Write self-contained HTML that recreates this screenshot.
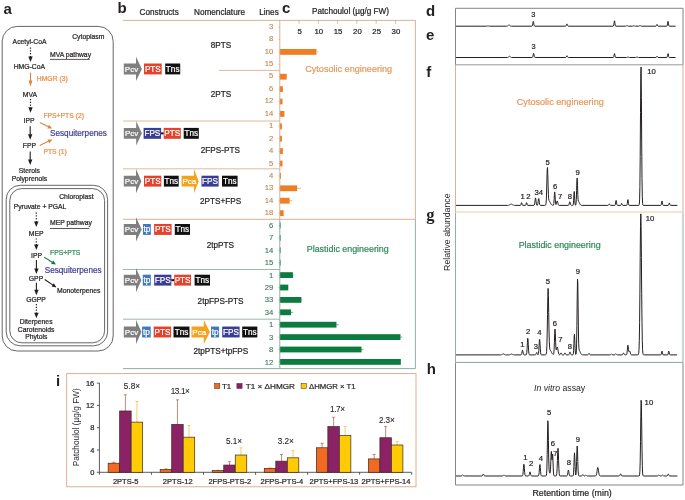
<!DOCTYPE html>
<html><head><meta charset="utf-8"><title>Figure</title>
<style>
html,body{margin:0;padding:0;background:#fff;width:685px;height:500px;overflow:hidden;}
svg{display:block;font-family:"Liberation Sans",sans-serif;will-change:transform;filter:blur(0.3px);}
</style></head>
<body>
<svg width="685" height="500" viewBox="0 0 685 500">
<text x="3.5" y="13.5" font-size="15" fill="#231f20" font-weight="bold">a</text>
<text x="117.5" y="13.4" font-size="15" fill="#231f20" font-weight="bold">b</text>
<text x="282" y="13" font-size="15" fill="#231f20" font-weight="bold">c</text>
<text x="426" y="15.9" font-size="15" fill="#231f20" font-weight="bold">d</text>
<text x="426" y="39.9" font-size="15" fill="#231f20" font-weight="bold">e</text>
<text x="426.3" y="76.5" font-size="15" fill="#231f20" font-weight="bold">f</text>
<text x="426.3" y="219.8" font-size="16.5" fill="#231f20" font-weight="bold" font-family="Liberation Serif">g</text>
<text x="426.8" y="374.2" font-size="15" fill="#231f20" font-weight="bold">h</text>
<text x="56" y="386" font-size="15" fill="#231f20" font-weight="bold">i</text>
<rect x="2.2" y="26.4" width="111.0" height="324.6" rx="15" ry="15" fill="none" stroke="#555" stroke-width="0.9"/>
<rect x="6.2" y="185.3" width="101.39999999999999" height="160.5" rx="14" ry="14" fill="none" stroke="#555" stroke-width="0.9"/>
<rect x="9.8" y="188.6" width="94.8" height="154.20000000000002" rx="12" ry="12" fill="none" stroke="#555" stroke-width="0.9"/>
<text x="12.6" y="44" font-size="6.8" fill="#231f20" stroke="#231f20" stroke-width="0.22">Acetyl-CoA</text>
<text x="72.2" y="38.8" font-size="6.8" fill="#231f20" stroke="#231f20" stroke-width="0.22">Cytoplasm</text>
<text x="50" y="57.2" font-size="6.8" fill="#231f20" stroke="#231f20" stroke-width="0.22">MVA pathway</text>
<line x1="50" y1="59.4" x2="89.6" y2="59.4" stroke="#231f20" stroke-width="0.75"/>
<line x1="30.5" y1="47.5" x2="30.5" y2="57.0" stroke="#231f20" stroke-width="1.2000000000000002" stroke-dasharray="1.2 1.6"/>
<path d="M28.3,56.5 L32.7,56.5 L30.5,62.0 Z" fill="#231f20"/>
<text x="13.7" y="69.4" font-size="6.8" fill="#231f20" stroke="#231f20" stroke-width="0.22">HMG-CoA</text>
<line x1="30.5" y1="72.6" x2="30.5" y2="80.9" stroke="#d9853e" stroke-width="1.1"/>
<path d="M28.6,80.4 L32.4,80.4 L30.5,86.4 Z" fill="#d9853e"/>
<text x="36.8" y="80.8" font-size="6.8" fill="#e8904a" stroke="#e8904a" stroke-width="0.22">HMGR (3)</text>
<text x="22.8" y="96.6" font-size="6.8" fill="#231f20" stroke="#231f20" stroke-width="0.22">MVA</text>
<line x1="30.5" y1="99.0" x2="30.5" y2="107.8" stroke="#231f20" stroke-width="1.2000000000000002" stroke-dasharray="1.2 1.6"/>
<path d="M28.3,107.3 L32.7,107.3 L30.5,112.8 Z" fill="#231f20"/>
<text x="23.6" y="123" font-size="6.8" fill="#231f20" stroke="#231f20" stroke-width="0.22">IPP</text>
<text x="43.4" y="117.8" font-size="6.8" fill="#e8904a" stroke="#e8904a" stroke-width="0.22">FPS+PTS (2)</text>
<line x1="39.8" y1="122.6" x2="48.60" y2="126.86" stroke="#dd8540" stroke-width="1.1"/>
<path d="M47.28,128.44 L49.02,124.84 L52.2,128.6 Z" fill="#dd8540"/>
<text x="50" y="136.4" font-size="8.2" fill="#3f3f94" stroke="#3f3f94" stroke-width="0.22">Sesquiterpenes</text>
<line x1="30.2" y1="126.2" x2="30.2" y2="134.8" stroke="#231f20" stroke-width="1.1"/>
<path d="M28.0,134.3 L32.4,134.3 L30.2,139.8 Z" fill="#231f20"/>
<text x="22.8" y="148.4" font-size="6.8" fill="#231f20" stroke="#231f20" stroke-width="0.22">FPP</text>
<line x1="39.8" y1="145.4" x2="48.79" y2="141.12" stroke="#dd8540" stroke-width="1.1"/>
<path d="M49.20,143.14 L47.48,139.53 L52.4,139.4 Z" fill="#dd8540"/>
<text x="43.4" y="153.7" font-size="6.8" fill="#e8904a" stroke="#e8904a" stroke-width="0.22">PTS (1)</text>
<line x1="30.2" y1="151.4" x2="30.2" y2="160.0" stroke="#231f20" stroke-width="1.1"/>
<path d="M28.0,159.5 L32.4,159.5 L30.2,165.0 Z" fill="#231f20"/>
<text x="29.4" y="172.6" font-size="6.8" fill="#231f20" stroke="#231f20" stroke-width="0.22" text-anchor="middle">Sterols</text>
<text x="29.4" y="180.8" font-size="6.8" fill="#231f20" stroke="#231f20" stroke-width="0.22" text-anchor="middle">Polyprenols</text>
<text x="59.2" y="199.4" font-size="6.8" fill="#231f20" stroke="#231f20" stroke-width="0.22">Chloroplast</text>
<text x="13.7" y="209.2" font-size="6.8" fill="#231f20" stroke="#231f20" stroke-width="0.22">Pyruvate + PGAL</text>
<line x1="36.3" y1="212.5" x2="36.3" y2="222.0" stroke="#231f20" stroke-width="1.2000000000000002" stroke-dasharray="1.2 1.6"/>
<path d="M34.099999999999994,221.5 L38.5,221.5 L36.3,227.0 Z" fill="#231f20"/>
<text x="50" y="225.3" font-size="6.8" fill="#231f20" stroke="#231f20" stroke-width="0.22">MEP pathway</text>
<line x1="50" y1="228.5" x2="89.3" y2="228.5" stroke="#231f20" stroke-width="0.75"/>
<text x="36.1" y="236.2" font-size="6.8" fill="#231f20" stroke="#231f20" stroke-width="0.22" text-anchor="middle">MEP</text>
<line x1="36.3" y1="238.4" x2="36.3" y2="245.0" stroke="#231f20" stroke-width="1.2000000000000002" stroke-dasharray="1.2 1.6"/>
<path d="M34.099999999999994,244.5 L38.5,244.5 L36.3,250.0 Z" fill="#231f20"/>
<text x="36.5" y="258.2" font-size="6.8" fill="#231f20" stroke="#231f20" stroke-width="0.22" text-anchor="middle">IPP</text>
<text x="50" y="255.0" font-size="6.8" fill="#2f8a5a" stroke="#2f8a5a" stroke-width="0.22">FPS+PTS</text>
<line x1="44.1" y1="257.1" x2="52.62" y2="262.47" stroke="#0c7b3f" stroke-width="1.1"/>
<path d="M51.13,263.89 L53.26,260.51 L56.0,264.6 Z" fill="#0c7b3f"/>
<text x="44.7" y="272.6" font-size="8.2" fill="#3f3f94" stroke="#3f3f94" stroke-width="0.22">Sesquiterpenes</text>
<line x1="36.4" y1="259.9" x2="36.4" y2="269.0" stroke="#231f20" stroke-width="1.1"/>
<path d="M34.199999999999996,268.5 L38.6,268.5 L36.4,274.0 Z" fill="#231f20"/>
<text x="36.0" y="280.9" font-size="6.8" fill="#231f20" stroke="#231f20" stroke-width="0.22" text-anchor="middle">GPP</text>
<line x1="44.7" y1="279.5" x2="53.08" y2="285.16" stroke="#231f20" stroke-width="1.1"/>
<path d="M51.55,286.54 L53.79,283.22 L56.4,287.4 Z" fill="#231f20"/>
<text x="57" y="292.7" font-size="6.8" fill="#231f20" stroke="#231f20" stroke-width="0.22">Monoterpenes</text>
<line x1="36.4" y1="282.7" x2="36.4" y2="290.2" stroke="#231f20" stroke-width="1.1"/>
<path d="M34.199999999999996,289.7 L38.6,289.7 L36.4,295.2 Z" fill="#231f20"/>
<text x="36.1" y="302" font-size="6.8" fill="#231f20" stroke="#231f20" stroke-width="0.22" text-anchor="middle">GGPP</text>
<line x1="36.4" y1="304.0" x2="36.4" y2="313.2" stroke="#231f20" stroke-width="1.2000000000000002" stroke-dasharray="1.2 1.6"/>
<path d="M34.199999999999996,312.7 L38.6,312.7 L36.4,318.2 Z" fill="#231f20"/>
<text x="36.1" y="323.7" font-size="6.8" fill="#231f20" stroke="#231f20" stroke-width="0.22" text-anchor="middle">Diterpenes</text>
<text x="36.1" y="331.7" font-size="6.8" fill="#231f20" stroke="#231f20" stroke-width="0.22" text-anchor="middle">Carotenoids</text>
<text x="36.3" y="338.9" font-size="6.8" fill="#231f20" stroke="#231f20" stroke-width="0.22" text-anchor="middle">Phytols</text>
<text x="139.6" y="14.6" font-size="8.2" fill="#231f20" stroke="#231f20" stroke-width="0.22">Constructs</text>
<text x="194" y="14.6" font-size="8.2" fill="#231f20" stroke="#231f20" stroke-width="0.22">Nomenclature</text>
<text x="259.2" y="14.6" font-size="8.2" fill="#231f20" stroke="#231f20" stroke-width="0.22">Lines</text>
<text x="221" y="47.8" font-size="8.2" fill="#231f20" stroke="#231f20" stroke-width="0.22" text-anchor="middle">8PTS</text>
<text x="221" y="97.2" font-size="8.2" fill="#231f20" stroke="#231f20" stroke-width="0.22" text-anchor="middle">2PTS</text>
<text x="220.3" y="153.1" font-size="8.2" fill="#231f20" stroke="#231f20" stroke-width="0.22" text-anchor="middle">2FPS-PTS</text>
<text x="220.6" y="203.9" font-size="8.2" fill="#231f20" stroke="#231f20" stroke-width="0.22" text-anchor="middle">2PTS+FPS</text>
<text x="220.4" y="247.6" font-size="8.2" fill="#231f20" stroke="#231f20" stroke-width="0.22" text-anchor="middle">2tpPTS</text>
<text x="220.6" y="304.2" font-size="8.2" fill="#231f20" stroke="#231f20" stroke-width="0.22" text-anchor="middle">2tpFPS-PTS</text>
<text x="220.8" y="354.2" font-size="8.2" fill="#231f20" stroke="#231f20" stroke-width="0.22" text-anchor="middle">2tpPTS+tpFPS</text>
<text x="273.2" y="28.70" font-size="7.7" fill="#c4844c" stroke="#c4844c" stroke-width="0.12" text-anchor="end">3</text>
<line x1="278.3" y1="27.1" x2="279.8" y2="27.1" stroke="#d8a886" stroke-width="0.6"/>
<text x="273.2" y="41.14" font-size="7.7" fill="#c4844c" stroke="#c4844c" stroke-width="0.12" text-anchor="end">8</text>
<line x1="278.3" y1="39.5" x2="279.8" y2="39.5" stroke="#d8a886" stroke-width="0.6"/>
<text x="273.2" y="53.59" font-size="7.7" fill="#c4844c" stroke="#c4844c" stroke-width="0.12" text-anchor="end">10</text>
<rect x="279.8" y="49.0" width="36.62" height="5.8" fill="#ef7d22"/>
<line x1="316.42" y1="51.9" x2="318.35" y2="51.9" stroke="#ef7d22" stroke-width="0.6"/>
<line x1="278.3" y1="51.9" x2="279.8" y2="51.9" stroke="#d8a886" stroke-width="0.6"/>
<text x="273.2" y="66.03" font-size="7.7" fill="#c4844c" stroke="#c4844c" stroke-width="0.12" text-anchor="end">15</text>
<line x1="278.3" y1="64.3" x2="279.8" y2="64.3" stroke="#d8a886" stroke-width="0.6"/>
<text x="273.2" y="78.47" font-size="7.7" fill="#c4844c" stroke="#c4844c" stroke-width="0.12" text-anchor="end">5</text>
<rect x="279.8" y="73.8" width="6.94" height="5.8" fill="#ef7d22"/>
<line x1="278.3" y1="76.7" x2="279.8" y2="76.7" stroke="#d8a886" stroke-width="0.6"/>
<text x="273.2" y="90.91" font-size="7.7" fill="#c4844c" stroke="#c4844c" stroke-width="0.12" text-anchor="end">6</text>
<rect x="279.8" y="86.2" width="3.08" height="5.8" fill="#ef7d22"/>
<line x1="278.3" y1="89.1" x2="279.8" y2="89.1" stroke="#d8a886" stroke-width="0.6"/>
<text x="273.2" y="103.36" font-size="7.7" fill="#c4844c" stroke="#c4844c" stroke-width="0.12" text-anchor="end">12</text>
<rect x="279.8" y="98.6" width="2.7" height="5.8" fill="#ef7d22"/>
<line x1="278.3" y1="101.5" x2="279.8" y2="101.5" stroke="#d8a886" stroke-width="0.6"/>
<text x="273.2" y="115.80" font-size="7.7" fill="#c4844c" stroke="#c4844c" stroke-width="0.12" text-anchor="end">14</text>
<rect x="279.8" y="111.0" width="4.63" height="5.8" fill="#ef7d22"/>
<line x1="278.3" y1="113.9" x2="279.8" y2="113.9" stroke="#d8a886" stroke-width="0.6"/>
<text x="273.2" y="128.24" font-size="7.7" fill="#c4844c" stroke="#c4844c" stroke-width="0.12" text-anchor="end">1</text>
<rect x="279.8" y="123.4" width="2.12" height="5.8" fill="#ef7d22"/>
<line x1="278.3" y1="126.3" x2="279.8" y2="126.3" stroke="#d8a886" stroke-width="0.6"/>
<text x="273.2" y="140.69" font-size="7.7" fill="#c4844c" stroke="#c4844c" stroke-width="0.12" text-anchor="end">2</text>
<rect x="279.8" y="135.8" width="2.12" height="5.8" fill="#ef7d22"/>
<line x1="278.3" y1="138.7" x2="279.8" y2="138.7" stroke="#d8a886" stroke-width="0.6"/>
<text x="273.2" y="153.13" font-size="7.7" fill="#c4844c" stroke="#c4844c" stroke-width="0.12" text-anchor="end">4</text>
<rect x="279.8" y="148.2" width="3.08" height="5.8" fill="#ef7d22"/>
<line x1="278.3" y1="151.1" x2="279.8" y2="151.1" stroke="#d8a886" stroke-width="0.6"/>
<text x="273.2" y="165.57" font-size="7.7" fill="#c4844c" stroke="#c4844c" stroke-width="0.12" text-anchor="end">5</text>
<rect x="279.8" y="160.6" width="2.7" height="5.8" fill="#ef7d22"/>
<line x1="278.3" y1="163.5" x2="279.8" y2="163.5" stroke="#d8a886" stroke-width="0.6"/>
<text x="273.2" y="178.02" font-size="7.7" fill="#c4844c" stroke="#c4844c" stroke-width="0.12" text-anchor="end">4</text>
<rect x="279.8" y="173.0" width="1.16" height="5.8" fill="#ef7d22"/>
<line x1="278.3" y1="175.9" x2="279.8" y2="175.9" stroke="#d8a886" stroke-width="0.6"/>
<text x="273.2" y="190.46" font-size="7.7" fill="#c4844c" stroke="#c4844c" stroke-width="0.12" text-anchor="end">13</text>
<rect x="279.8" y="185.4" width="17.35" height="5.8" fill="#ef7d22"/>
<line x1="297.15" y1="188.3" x2="301.0" y2="188.3" stroke="#ef7d22" stroke-width="0.6"/>
<line x1="278.3" y1="188.3" x2="279.8" y2="188.3" stroke="#d8a886" stroke-width="0.6"/>
<text x="273.2" y="202.90" font-size="7.7" fill="#c4844c" stroke="#c4844c" stroke-width="0.12" text-anchor="end">14</text>
<rect x="279.8" y="197.8" width="9.83" height="5.8" fill="#ef7d22"/>
<line x1="289.63" y1="200.7" x2="292.33" y2="200.7" stroke="#ef7d22" stroke-width="0.6"/>
<line x1="278.3" y1="200.7" x2="279.8" y2="200.7" stroke="#d8a886" stroke-width="0.6"/>
<text x="273.2" y="215.34" font-size="7.7" fill="#c4844c" stroke="#c4844c" stroke-width="0.12" text-anchor="end">18</text>
<rect x="279.8" y="210.2" width="3.85" height="5.8" fill="#ef7d22"/>
<line x1="278.3" y1="213.1" x2="279.8" y2="213.1" stroke="#d8a886" stroke-width="0.6"/>
<text x="273.2" y="227.79" font-size="7.7" fill="#357a5a" stroke="#357a5a" stroke-width="0.12" text-anchor="end">6</text>
<rect x="279.8" y="222.6" width="0.77" height="5.8" fill="#0c7b3f"/>
<line x1="278.3" y1="225.5" x2="279.8" y2="225.5" stroke="#80a898" stroke-width="0.6"/>
<text x="273.2" y="240.23" font-size="7.7" fill="#357a5a" stroke="#357a5a" stroke-width="0.12" text-anchor="end">7</text>
<rect x="279.8" y="235.0" width="0.77" height="5.8" fill="#0c7b3f"/>
<line x1="278.3" y1="237.9" x2="279.8" y2="237.9" stroke="#80a898" stroke-width="0.6"/>
<text x="273.2" y="252.67" font-size="7.7" fill="#357a5a" stroke="#357a5a" stroke-width="0.12" text-anchor="end">14</text>
<rect x="279.8" y="247.4" width="0.77" height="5.8" fill="#0c7b3f"/>
<line x1="278.3" y1="250.3" x2="279.8" y2="250.3" stroke="#80a898" stroke-width="0.6"/>
<text x="273.2" y="265.12" font-size="7.7" fill="#357a5a" stroke="#357a5a" stroke-width="0.12" text-anchor="end">15</text>
<rect x="279.8" y="259.8" width="0.77" height="5.8" fill="#0c7b3f"/>
<line x1="278.3" y1="262.7" x2="279.8" y2="262.7" stroke="#80a898" stroke-width="0.6"/>
<text x="273.2" y="277.56" font-size="7.7" fill="#357a5a" stroke="#357a5a" stroke-width="0.12" text-anchor="end">1</text>
<rect x="279.8" y="272.2" width="13.11" height="5.8" fill="#0c7b3f"/>
<line x1="292.91" y1="275.1" x2="293.68" y2="275.1" stroke="#0c7b3f" stroke-width="0.6"/>
<line x1="278.3" y1="275.1" x2="279.8" y2="275.1" stroke="#80a898" stroke-width="0.6"/>
<text x="273.2" y="290.00" font-size="7.7" fill="#357a5a" stroke="#357a5a" stroke-width="0.12" text-anchor="end">29</text>
<rect x="279.8" y="284.6" width="8.48" height="5.8" fill="#0c7b3f"/>
<line x1="278.3" y1="287.5" x2="279.8" y2="287.5" stroke="#80a898" stroke-width="0.6"/>
<text x="273.2" y="302.45" font-size="7.7" fill="#357a5a" stroke="#357a5a" stroke-width="0.12" text-anchor="end">33</text>
<rect x="279.8" y="297.0" width="21.59" height="5.8" fill="#0c7b3f"/>
<line x1="301.39" y1="299.9" x2="302.16" y2="299.9" stroke="#0c7b3f" stroke-width="0.6"/>
<line x1="278.3" y1="299.9" x2="279.8" y2="299.9" stroke="#80a898" stroke-width="0.6"/>
<text x="273.2" y="314.89" font-size="7.7" fill="#357a5a" stroke="#357a5a" stroke-width="0.12" text-anchor="end">34</text>
<rect x="279.8" y="309.4" width="11.18" height="5.8" fill="#0c7b3f"/>
<line x1="290.98" y1="312.3" x2="293.29" y2="312.3" stroke="#0c7b3f" stroke-width="0.6"/>
<line x1="278.3" y1="312.3" x2="279.8" y2="312.3" stroke="#80a898" stroke-width="0.6"/>
<text x="273.2" y="327.33" font-size="7.7" fill="#357a5a" stroke="#357a5a" stroke-width="0.12" text-anchor="end">1</text>
<rect x="279.8" y="321.8" width="56.67" height="5.8" fill="#0c7b3f"/>
<line x1="336.47" y1="324.7" x2="338.78" y2="324.7" stroke="#0c7b3f" stroke-width="0.6"/>
<line x1="278.3" y1="324.7" x2="279.8" y2="324.7" stroke="#80a898" stroke-width="0.6"/>
<text x="273.2" y="339.77" font-size="7.7" fill="#357a5a" stroke="#357a5a" stroke-width="0.12" text-anchor="end">3</text>
<rect x="279.8" y="334.2" width="120.66" height="5.8" fill="#0c7b3f"/>
<line x1="400.46" y1="337.1" x2="402.0" y2="337.1" stroke="#0c7b3f" stroke-width="0.6"/>
<line x1="278.3" y1="337.1" x2="279.8" y2="337.1" stroke="#80a898" stroke-width="0.6"/>
<text x="273.2" y="352.22" font-size="7.7" fill="#357a5a" stroke="#357a5a" stroke-width="0.12" text-anchor="end">8</text>
<rect x="279.8" y="346.6" width="81.73" height="5.8" fill="#0c7b3f"/>
<line x1="361.53" y1="349.5" x2="363.45" y2="349.5" stroke="#0c7b3f" stroke-width="0.6"/>
<line x1="278.3" y1="349.5" x2="279.8" y2="349.5" stroke="#80a898" stroke-width="0.6"/>
<text x="273.2" y="364.66" font-size="7.7" fill="#357a5a" stroke="#357a5a" stroke-width="0.12" text-anchor="end">12</text>
<rect x="279.8" y="359.0" width="121.05" height="5.8" fill="#0c7b3f"/>
<line x1="278.3" y1="361.9" x2="279.8" y2="361.9" stroke="#80a898" stroke-width="0.6"/>
<line x1="123" y1="20.4" x2="415.4" y2="20.4" stroke="#d8a886" stroke-width="0.9"/>
<line x1="279.8" y1="20.4" x2="279.8" y2="219.3" stroke="#d8a886" stroke-width="0.9"/>
<line x1="415.4" y1="20.4" x2="415.4" y2="219.3" stroke="#d8a886" stroke-width="0.9"/>
<line x1="279.8" y1="219.3" x2="279.8" y2="368.6" stroke="#80a898" stroke-width="0.9"/>
<line x1="415.4" y1="219.3" x2="415.4" y2="368.6" stroke="#80a898" stroke-width="0.9"/>
<line x1="219" y1="70.4" x2="279.8" y2="70.4" stroke="#d8a886" stroke-width="0.8"/>
<line x1="123" y1="121.0" x2="279.8" y2="121.0" stroke="#d8a886" stroke-width="0.8"/>
<line x1="123" y1="168.8" x2="279.8" y2="168.8" stroke="#d8a886" stroke-width="0.8"/>
<line x1="123" y1="219.3" x2="415.4" y2="219.3" stroke="#d8a886" stroke-width="0.9"/>
<line x1="123" y1="269.5" x2="279.8" y2="269.5" stroke="#80a898" stroke-width="0.8"/>
<line x1="123" y1="319.2" x2="279.8" y2="319.2" stroke="#80a898" stroke-width="0.8"/>
<line x1="123" y1="368.6" x2="415.4" y2="368.6" stroke="#80a898" stroke-width="0.9"/>
<line x1="299.07" y1="20.4" x2="299.07" y2="23.799999999999997" stroke="#999" stroke-width="0.6"/>
<text x="299.57" y="33.9" font-size="7.8" fill="#231f20" stroke="#231f20" stroke-width="0.22" text-anchor="middle">5</text>
<line x1="318.35" y1="20.4" x2="318.35" y2="23.799999999999997" stroke="#999" stroke-width="0.6"/>
<text x="318.85" y="33.9" font-size="7.8" fill="#231f20" stroke="#231f20" stroke-width="0.22" text-anchor="middle">10</text>
<line x1="337.62" y1="20.4" x2="337.62" y2="23.799999999999997" stroke="#999" stroke-width="0.6"/>
<text x="338.12" y="33.9" font-size="7.8" fill="#231f20" stroke="#231f20" stroke-width="0.22" text-anchor="middle">15</text>
<line x1="356.9" y1="20.4" x2="356.9" y2="23.799999999999997" stroke="#999" stroke-width="0.6"/>
<text x="357.4" y="33.9" font-size="7.8" fill="#231f20" stroke="#231f20" stroke-width="0.22" text-anchor="middle">20</text>
<line x1="376.18" y1="20.4" x2="376.18" y2="23.799999999999997" stroke="#999" stroke-width="0.6"/>
<text x="376.68" y="33.9" font-size="7.8" fill="#231f20" stroke="#231f20" stroke-width="0.22" text-anchor="middle">25</text>
<line x1="395.45" y1="20.4" x2="395.45" y2="23.799999999999997" stroke="#999" stroke-width="0.6"/>
<text x="395.95" y="33.9" font-size="7.8" fill="#231f20" stroke="#231f20" stroke-width="0.22" text-anchor="middle">30</text>
<text x="312" y="14.4" font-size="8.2" fill="#231f20" stroke="#231f20" stroke-width="0.22">Patchoulol (µg/g FW)</text>
<text x="305.2" y="71.7" font-size="9.1" fill="#e59a5e" stroke="#e59a5e" stroke-width="0.22">Cytosolic engineering</text>
<text x="306.8" y="252.0" font-size="8.9" fill="#2f8a5a" stroke="#2f8a5a" stroke-width="0.22">Plastidic engineering</text>
<path d="M123.8,63.50 L136.0,63.50 L136.0,56.85 L141.9,68.95 L136.0,81.05 L136.0,74.40 L123.8,74.40 Z" fill="#7f7f7f"/>
<text x="131.5" y="71.85" font-size="8.0" fill="#fff" stroke="#fff" stroke-width="0.22" text-anchor="middle">Pcv</text>
<rect x="144.0" y="63.5" width="17.7" height="10.9" fill="#e5412b"/>
<text x="152.85" y="71.9" font-size="8.2" fill="#fff" stroke="#fff" stroke-width="0.22" text-anchor="middle">PTS</text>
<rect x="165.2" y="63.5" width="15.0" height="10.9" fill="#111"/>
<text x="172.7" y="71.9" font-size="8.2" fill="#fff" stroke="#fff" stroke-width="0.22" text-anchor="middle">Tns</text>
<path d="M123.8,127.90 L136.2,127.90 L136.2,121.25 L141.9,133.35 L136.2,145.45 L136.2,138.80 L123.8,138.80 Z" fill="#7f7f7f"/>
<text x="131.6" y="136.25" font-size="8.0" fill="#fff" stroke="#fff" stroke-width="0.22" text-anchor="middle">Pcv</text>
<rect x="143.6" y="127.9" width="17.5" height="10.9" fill="#3a3d96"/>
<text x="152.35" y="136.3" font-size="8.2" fill="#fff" stroke="#fff" stroke-width="0.22" text-anchor="middle">FPS</text>
<rect x="161.1" y="132.35" width="2.6" height="2.0" fill="#111"/>
<rect x="163.7" y="127.9" width="17.1" height="10.9" fill="#e5412b"/>
<text x="172.25" y="136.3" font-size="8.2" fill="#fff" stroke="#fff" stroke-width="0.22" text-anchor="middle">PTS</text>
<rect x="183.7" y="127.9" width="15.1" height="10.9" fill="#111"/>
<text x="191.25" y="136.3" font-size="8.2" fill="#fff" stroke="#fff" stroke-width="0.22" text-anchor="middle">Tns</text>
<path d="M123.8,175.70 L136.0,175.70 L136.0,169.05 L141.4,181.15 L136.0,193.25 L136.0,186.60 L123.8,186.60 Z" fill="#7f7f7f"/>
<text x="131.5" y="184.05" font-size="8.0" fill="#fff" stroke="#fff" stroke-width="0.22" text-anchor="middle">Pcv</text>
<rect x="144.0" y="175.7" width="17.3" height="10.9" fill="#e5412b"/>
<text x="152.65" y="184.1" font-size="8.2" fill="#fff" stroke="#fff" stroke-width="0.22" text-anchor="middle">PTS</text>
<rect x="163.9" y="175.7" width="14.8" height="10.9" fill="#111"/>
<text x="171.3" y="184.1" font-size="8.2" fill="#fff" stroke="#fff" stroke-width="0.22" text-anchor="middle">Tns</text>
<path d="M181.6,175.70 L194.0,175.70 L194.0,169.05 L198.7,181.15 L194.0,193.25 L194.0,186.60 L181.6,186.60 Z" fill="#f5a21d"/>
<text x="189.4" y="184.05" font-size="8.0" fill="#fff" stroke="#fff" stroke-width="0.22" text-anchor="middle">Pca</text>
<rect x="201.5" y="175.7" width="17.1" height="10.9" fill="#3a3d96"/>
<text x="210.05" y="184.1" font-size="8.2" fill="#fff" stroke="#fff" stroke-width="0.22" text-anchor="middle">FPS</text>
<rect x="222.0" y="175.7" width="15.6" height="10.9" fill="#111"/>
<text x="229.8" y="184.1" font-size="8.2" fill="#fff" stroke="#fff" stroke-width="0.22" text-anchor="middle">Tns</text>
<path d="M123.8,224.00 L136.0,224.00 L136.0,217.35 L141.7,229.45 L136.0,241.55 L136.0,234.90 L123.8,234.90 Z" fill="#7f7f7f"/>
<text x="131.5" y="232.35" font-size="8.0" fill="#fff" stroke="#fff" stroke-width="0.22" text-anchor="middle">Pcv</text>
<rect x="143.0" y="224.0" width="7.8" height="10.9" fill="#3f79c0"/>
<text x="146.9" y="232.4" font-size="8.2" fill="#fff" stroke="#fff" stroke-width="0.22" text-anchor="middle">tp</text>
<rect x="154.1" y="224.0" width="17.5" height="10.9" fill="#e5412b"/>
<text x="162.85" y="232.4" font-size="8.2" fill="#fff" stroke="#fff" stroke-width="0.22" text-anchor="middle">PTS</text>
<rect x="174.8" y="224.0" width="15.2" height="10.9" fill="#111"/>
<text x="182.4" y="232.4" font-size="8.2" fill="#fff" stroke="#fff" stroke-width="0.22" text-anchor="middle">Tns</text>
<path d="M123.8,274.70 L136.0,274.70 L136.0,268.05 L141.4,280.15 L136.0,292.25 L136.0,285.60 L123.8,285.60 Z" fill="#7f7f7f"/>
<text x="131.5" y="283.05" font-size="8.0" fill="#fff" stroke="#fff" stroke-width="0.22" text-anchor="middle">Pcv</text>
<rect x="142.8" y="274.7" width="8.0" height="10.9" fill="#3f79c0"/>
<text x="146.8" y="283.1" font-size="8.2" fill="#fff" stroke="#fff" stroke-width="0.22" text-anchor="middle">tp</text>
<rect x="154.2" y="274.7" width="17.1" height="10.9" fill="#3a3d96"/>
<text x="162.75" y="283.1" font-size="8.2" fill="#fff" stroke="#fff" stroke-width="0.22" text-anchor="middle">FPS</text>
<rect x="171.3" y="279.15" width="2.9" height="2.0" fill="#111"/>
<rect x="174.2" y="274.7" width="16.8" height="10.9" fill="#e5412b"/>
<text x="182.6" y="283.1" font-size="8.2" fill="#fff" stroke="#fff" stroke-width="0.22" text-anchor="middle">PTS</text>
<rect x="194.6" y="274.7" width="15.4" height="10.9" fill="#111"/>
<text x="202.3" y="283.1" font-size="8.2" fill="#fff" stroke="#fff" stroke-width="0.22" text-anchor="middle">Tns</text>
<path d="M123.8,326.55 L136.0,326.55 L136.0,319.90 L141.5,332.00 L136.0,344.10 L136.0,337.45 L123.8,337.45 Z" fill="#7f7f7f"/>
<text x="131.5" y="334.9" font-size="8.0" fill="#fff" stroke="#fff" stroke-width="0.22" text-anchor="middle">Pcv</text>
<rect x="142.1" y="326.55" width="8.6" height="10.9" fill="#3f79c0"/>
<text x="146.4" y="334.95" font-size="8.2" fill="#fff" stroke="#fff" stroke-width="0.22" text-anchor="middle">tp</text>
<rect x="153.7" y="326.55" width="17.4" height="10.9" fill="#e5412b"/>
<text x="162.4" y="334.95" font-size="8.2" fill="#fff" stroke="#fff" stroke-width="0.22" text-anchor="middle">PTS</text>
<rect x="173.5" y="326.55" width="16.0" height="10.9" fill="#111"/>
<text x="181.5" y="334.95" font-size="8.2" fill="#fff" stroke="#fff" stroke-width="0.22" text-anchor="middle">Tns</text>
<path d="M191.5,326.55 L203.8,326.55 L203.8,319.90 L209.9,332.00 L203.8,344.10 L203.8,337.45 L191.5,337.45 Z" fill="#f5a21d"/>
<text x="199.25" y="334.9" font-size="8.0" fill="#fff" stroke="#fff" stroke-width="0.22" text-anchor="middle">Pca</text>
<rect x="211.0" y="326.55" width="8.1" height="10.9" fill="#3f79c0"/>
<text x="215.05" y="334.95" font-size="8.2" fill="#fff" stroke="#fff" stroke-width="0.22" text-anchor="middle">tp</text>
<rect x="222.2" y="326.55" width="17.4" height="10.9" fill="#3a3d96"/>
<text x="230.9" y="334.95" font-size="8.2" fill="#fff" stroke="#fff" stroke-width="0.22" text-anchor="middle">FPS</text>
<rect x="242.2" y="326.55" width="15.1" height="10.9" fill="#111"/>
<text x="249.75" y="334.95" font-size="8.2" fill="#fff" stroke="#fff" stroke-width="0.22" text-anchor="middle">Tns</text>
<path d="M455.5,64.8 L455.5,8.3 L683.0,8.3 L683.0,64.8" fill="none" stroke="#777" stroke-width="0.9"/>
<line x1="455.5" y1="64.8" x2="683.0" y2="64.8" stroke="#999" stroke-width="1.0"/>
<path d="M455.5,64.9 L455.5,212 M683.0,64.9 L683.0,212" fill="none" stroke="#d8a886" stroke-width="0.9"/>
<line x1="455.5" y1="212.0" x2="683.0" y2="212.0" stroke="#f0c8a0" stroke-width="1.0"/>
<path d="M455.5,212.5 L455.5,362.4 M683.0,212.5 L683.0,362.4" fill="none" stroke="#80a898" stroke-width="0.9"/>
<line x1="455.5" y1="362.4" x2="683.0" y2="362.4" stroke="#80a898" stroke-width="1.0"/>
<path d="M455.5,362.9 L455.5,485 L683.0,485 L683.0,362.9" fill="none" stroke="#777" stroke-width="0.9"/>
<path d="M456.00,26.20 L486.60,26.18 L486.90,26.14 L487.20,26.08 L487.50,25.99 L487.80,25.92 L488.10,25.90 L488.40,25.96 L488.70,26.05 L489.00,26.13 L489.30,26.17 L489.60,26.19 L506.70,26.18 L507.00,26.15 L507.30,26.07 L507.60,25.94 L507.90,25.73 L508.20,25.47 L508.50,25.21 L508.80,25.04 L509.10,25.01 L509.40,25.14 L509.70,25.38 L510.00,25.65 L510.30,25.88 L510.60,26.04 L510.90,26.13 L511.20,26.17 L511.50,26.19 L531.60,26.20 L531.90,26.16 L532.20,25.95 L532.50,25.19 L532.80,23.56 L533.10,21.76 L533.40,21.42 L533.70,22.90 L534.00,24.74 L534.30,25.79 L534.60,26.12 L534.90,26.19 L565.50,26.19 L565.80,26.13 L566.10,25.89 L566.40,25.25 L566.70,24.36 L567.00,23.90 L567.30,24.36 L567.60,25.25 L567.90,25.89 L568.20,26.13 L568.50,26.19 L612.90,26.20 L613.20,26.17 L613.50,25.95 L613.80,24.99 L614.10,22.80 L614.40,20.77 L614.70,21.26 L615.00,23.64 L615.30,25.44 L615.60,26.07 L615.90,26.19 L625.20,26.19 L625.50,26.17 L625.80,26.12 L626.10,26.01 L626.40,25.84 L626.70,25.67 L627.00,25.60 L627.30,25.67 L627.60,25.84 L627.90,26.01 L628.20,26.12 L628.50,26.17 L628.80,26.19 L632.40,26.19 L632.70,26.15 L633.00,26.08 L633.30,25.95 L633.60,25.80 L633.90,25.71 L634.20,25.73 L634.50,25.85 L634.80,25.99 L635.10,26.11 L635.40,26.17 L635.70,26.19 L638.40,26.18 L638.70,26.14 L639.00,26.05 L639.30,25.90 L639.60,25.72 L639.90,25.61 L640.20,25.63 L640.50,25.78 L640.80,25.95 L641.10,26.09 L641.40,26.16 L641.70,26.19 L655.80,26.18 L656.10,26.06 L656.40,25.62 L656.70,24.84 L657.00,24.40 L657.30,24.84 L657.60,25.62 L657.90,26.06 L658.20,26.18 L666.60,26.19 L666.90,26.09 L667.20,25.52 L667.50,23.91 L667.80,21.79 L668.10,21.35 L668.40,23.17 L668.70,25.12 L669.00,25.98 L669.30,26.17 L669.60,26.20 L675.60,26.20" fill="none" stroke="#231f20" stroke-width="1.0" stroke-linejoin="round"/>
<text x="533.4" y="17.4" font-size="7.4" fill="#231f20" stroke="#231f20" stroke-width="0.22" text-anchor="middle">3</text>
<path d="M456.00,57.50 L507.00,57.49 L507.30,57.47 L507.60,57.43 L507.90,57.34 L508.20,57.18 L508.50,56.95 L508.80,56.68 L509.10,56.44 L509.40,56.31 L509.70,56.34 L510.00,56.51 L510.30,56.77 L510.60,57.03 L510.90,57.24 L511.20,57.37 L511.50,57.45 L511.80,57.48 L531.90,57.50 L532.20,57.47 L532.50,57.28 L532.80,56.61 L533.10,55.18 L533.40,53.60 L533.70,53.30 L534.00,54.60 L534.30,56.22 L534.60,57.14 L534.90,57.43 L535.20,57.49 L565.50,57.49 L565.80,57.45 L566.10,57.26 L566.40,56.76 L566.70,56.06 L567.00,55.70 L567.30,56.06 L567.60,56.76 L567.90,57.26 L568.20,57.45 L568.50,57.49 L612.90,57.50 L613.20,57.48 L613.50,57.32 L613.80,56.63 L614.10,55.07 L614.40,53.62 L614.70,53.97 L615.00,55.67 L615.30,56.96 L615.60,57.41 L615.90,57.49 L626.40,57.49 L626.70,57.45 L627.00,57.38 L627.30,57.25 L627.60,57.10 L627.90,57.01 L628.20,57.03 L628.50,57.15 L628.80,57.29 L629.10,57.41 L629.40,57.47 L629.70,57.49 L635.40,57.49 L635.70,57.45 L636.00,57.38 L636.30,57.25 L636.60,57.10 L636.90,57.01 L637.20,57.03 L637.50,57.15 L637.80,57.29 L638.10,57.41 L638.40,57.47 L638.70,57.49 L655.80,57.49 L656.10,57.40 L656.40,57.08 L656.70,56.52 L657.00,56.20 L657.30,56.52 L657.60,57.08 L657.90,57.40 L658.20,57.49 L666.60,57.49 L666.90,57.41 L667.20,56.96 L667.50,55.67 L667.80,53.97 L668.10,53.62 L668.40,55.07 L668.70,56.63 L669.00,57.32 L669.30,57.48 L669.60,57.50 L675.60,57.50" fill="none" stroke="#231f20" stroke-width="1.0" stroke-linejoin="round"/>
<text x="533.6" y="49.0" font-size="7.4" fill="#231f20" stroke="#231f20" stroke-width="0.22" text-anchor="middle">3</text>
<path d="M456.00,205.40 L507.60,205.39 L507.90,205.37 L508.20,205.34 L508.50,205.30 L508.80,205.22 L509.10,205.12 L509.40,204.98 L509.70,204.80 L510.00,204.61 L510.30,204.42 L510.60,204.25 L510.90,204.14 L511.20,204.10 L511.50,204.14 L511.80,204.25 L512.10,204.42 L512.40,204.61 L512.70,204.80 L513.00,204.98 L513.30,205.12 L513.60,205.22 L513.90,205.30 L514.20,205.34 L514.50,205.37 L514.80,205.39 L520.20,205.39 L520.50,205.33 L520.80,205.01 L521.10,204.07 L521.40,202.84 L521.70,202.59 L522.00,203.64 L522.30,204.77 L522.60,205.27 L522.90,205.39 L525.30,205.39 L525.60,205.27 L525.90,204.77 L526.20,203.64 L526.50,202.59 L526.80,202.84 L527.10,204.07 L527.40,205.01 L527.70,205.33 L528.00,205.39 L533.70,205.39 L534.00,205.32 L534.30,204.98 L534.60,203.92 L534.90,201.75 L535.20,199.14 L535.50,197.90 L535.80,199.14 L536.10,201.75 L536.40,203.92 L536.70,204.98 L537.00,205.30 L537.30,205.25 L537.60,204.78 L537.90,203.45 L538.20,201.15 L538.50,198.94 L538.80,198.54 L539.10,200.32 L539.40,202.77 L539.70,204.45 L540.00,205.16 L540.30,205.36 L540.60,205.39 L544.50,205.39 L544.80,205.38 L545.10,205.34 L545.40,205.25 L545.70,204.92 L546.00,203.67 L546.30,199.98 L546.60,192.02 L546.90,180.24 L547.20,169.80 L547.50,167.49 L547.80,174.69 L548.10,185.77 L548.40,194.45 L548.70,198.83 L549.00,200.40 L549.30,200.95 L549.60,201.37 L549.90,201.88 L550.20,202.48 L550.50,203.10 L550.80,203.68 L551.10,204.19 L551.40,204.59 L551.70,204.88 L552.00,205.09 L552.30,205.22 L552.60,205.30 L552.90,205.35 L553.20,205.32 L553.50,205.00 L553.80,203.57 L554.10,199.85 L554.40,194.59 L554.70,191.90 L555.00,194.59 L555.30,199.82 L555.60,203.44 L555.90,204.58 L556.20,204.23 L556.50,203.12 L556.80,201.80 L557.10,200.96 L557.40,201.14 L557.70,202.22 L558.00,203.55 L558.30,204.56 L558.60,205.10 L558.90,205.32 L559.20,205.38 L567.90,205.40 L568.20,205.38 L568.50,205.27 L568.80,204.90 L569.10,204.01 L569.40,202.71 L569.70,201.77 L570.00,201.98 L570.30,203.16 L570.60,204.37 L570.90,205.07 L571.20,205.33 L571.50,205.39 L572.70,205.39 L573.00,205.25 L573.30,204.29 L573.60,200.89 L573.90,194.91 L574.20,191.50 L574.50,194.91 L574.80,200.88 L575.10,204.28 L575.40,205.19 L575.70,205.10 L576.00,203.90 L576.30,199.63 L576.60,190.55 L576.90,180.45 L577.20,178.04 L577.50,185.33 L577.80,194.57 L578.10,199.67 L578.40,201.22 L578.70,201.64 L579.00,202.05 L579.30,202.65 L579.60,203.33 L579.90,203.98 L580.20,204.51 L580.50,204.89 L580.80,205.13 L581.10,205.27 L581.40,205.34 L581.70,205.38 L582.00,205.39 L607.80,205.38 L608.10,205.32 L608.40,205.10 L608.70,204.67 L609.00,204.15 L609.30,203.90 L609.60,204.15 L609.90,204.67 L610.20,205.10 L610.50,205.32 L610.80,205.38 L614.70,205.39 L615.00,205.28 L615.30,204.70 L615.60,203.02 L615.90,200.81 L616.20,200.36 L616.50,202.25 L616.80,204.28 L617.10,205.17 L617.40,205.37 L617.70,205.40 L620.40,205.39 L620.70,205.31 L621.00,204.97 L621.30,204.19 L621.60,203.46 L621.90,203.64 L622.20,204.48 L622.50,205.13 L622.80,205.35 L623.10,205.40 L626.40,205.39 L626.70,205.34 L627.00,204.94 L627.30,203.52 L627.60,201.02 L627.90,199.60 L628.20,201.02 L628.50,203.52 L628.80,204.94 L629.10,205.34 L629.40,205.39 L638.40,205.40 L638.70,205.38 L639.00,205.21 L639.30,204.22 L639.60,199.89 L639.90,186.37 L640.20,156.58 L640.50,112.39 L640.80,73.80 L641.10,67.10 L641.40,97.47 L641.70,142.85 L642.00,178.48 L642.30,196.79 L642.60,203.36 L642.90,205.04 L643.20,205.35 L643.50,205.40 L660.60,205.39 L660.90,205.30 L661.20,204.78 L661.50,203.29 L661.80,201.34 L662.10,200.94 L662.40,202.61 L662.70,204.41 L663.00,205.20 L663.30,205.38 L663.60,205.40 L668.10,205.39 L668.40,205.29 L668.70,204.86 L669.00,203.88 L669.30,202.98 L669.60,203.19 L669.90,204.26 L670.20,205.06 L670.50,205.34 L670.80,205.39 L677.40,205.40" fill="none" stroke="#231f20" stroke-width="1.0" stroke-linejoin="round"/>
<text x="651.5" y="73.6" font-size="7.7" fill="#231f20" stroke="#231f20" stroke-width="0.22" text-anchor="middle">10</text>
<text x="547.7" y="164.6" font-size="7.7" fill="#231f20" stroke="#231f20" stroke-width="0.22" text-anchor="middle">5</text>
<text x="577.6" y="174.5" font-size="7.7" fill="#231f20" stroke="#231f20" stroke-width="0.22" text-anchor="middle">9</text>
<text x="555.1" y="188.7" font-size="7.7" fill="#231f20" stroke="#231f20" stroke-width="0.22" text-anchor="middle">6</text>
<text x="560.1" y="198.9" font-size="7.7" fill="#231f20" stroke="#231f20" stroke-width="0.22" text-anchor="middle">7</text>
<text x="570.0" y="198.9" font-size="7.7" fill="#231f20" stroke="#231f20" stroke-width="0.22" text-anchor="middle">8</text>
<text x="522.6" y="198.9" font-size="7.7" fill="#231f20" stroke="#231f20" stroke-width="0.22" text-anchor="middle">1</text>
<text x="528.3" y="198.9" font-size="7.7" fill="#231f20" stroke="#231f20" stroke-width="0.22" text-anchor="middle">2</text>
<text x="538.7" y="194.5" font-size="7.7" fill="#231f20" stroke="#231f20" stroke-width="0.22" text-anchor="middle">34</text>
<text x="516.8" y="104.8" font-size="9.1" fill="#e59a5e" stroke="#e59a5e" stroke-width="0.22">Cytosolic engineering</text>
<path d="M456.00,354.90 L500.40,354.89 L500.70,354.87 L501.00,354.84 L501.30,354.79 L501.60,354.70 L501.90,354.58 L502.20,354.41 L502.50,354.23 L502.80,354.06 L503.10,353.94 L503.40,353.90 L503.70,353.94 L504.00,354.06 L504.30,354.23 L504.60,354.41 L504.90,354.58 L505.20,354.70 L505.50,354.79 L505.80,354.84 L506.10,354.87 L506.40,354.89 L508.50,354.89 L508.80,354.88 L509.10,354.86 L509.40,354.81 L509.70,354.74 L510.00,354.64 L510.30,354.51 L510.60,354.37 L510.90,354.23 L511.20,354.14 L511.50,354.10 L511.80,354.14 L512.10,354.23 L512.40,354.37 L512.70,354.51 L513.00,354.64 L513.30,354.74 L513.60,354.81 L513.90,354.86 L514.20,354.88 L514.50,354.89 L520.80,354.89 L521.10,354.80 L521.40,354.47 L521.70,353.57 L522.00,351.99 L522.30,350.47 L522.60,350.20 L522.90,351.41 L523.20,353.10 L523.50,354.25 L523.80,354.74 L524.10,354.87 L524.40,354.90 L525.90,354.89 L526.20,354.80 L526.50,354.32 L526.80,352.60 L527.10,348.52 L527.40,342.56 L527.70,338.24 L528.00,339.21 L528.30,344.59 L528.60,350.17 L528.90,353.39 L529.20,354.56 L529.50,354.85 L529.80,354.89 L534.90,354.90 L535.20,354.87 L535.50,354.76 L535.80,354.41 L536.10,353.68 L536.40,352.81 L536.70,352.40 L537.00,352.81 L537.30,353.68 L537.60,354.40 L537.90,354.71 L538.20,354.56 L538.50,353.49 L538.80,350.51 L539.10,345.32 L539.40,340.31 L539.70,339.41 L540.00,343.43 L540.30,348.97 L540.60,352.76 L540.90,354.36 L541.20,354.81 L541.50,354.89 L544.80,354.88 L545.10,354.86 L545.40,354.83 L545.70,354.76 L546.00,354.56 L546.30,353.87 L546.60,351.59 L546.90,345.50 L547.20,333.06 L547.50,314.62 L547.80,296.47 L548.10,288.40 L548.40,295.33 L548.70,312.41 L549.00,329.94 L549.30,341.66 L549.60,347.29 L549.90,349.36 L550.20,350.08 L550.50,350.53 L550.80,351.02 L551.10,351.57 L551.40,352.16 L551.70,352.73 L552.00,353.25 L552.30,353.69 L552.60,354.05 L552.90,354.32 L553.20,354.49 L553.50,354.38 L553.80,353.32 L554.10,349.75 L554.40,342.37 L554.70,333.43 L555.00,329.10 L555.30,333.03 L555.60,341.35 L555.90,347.70 L556.20,349.80 L556.50,349.16 L556.80,347.80 L557.10,346.96 L557.40,347.15 L557.70,348.32 L558.00,350.05 L558.30,351.79 L558.60,353.17 L558.90,354.06 L559.20,354.55 L559.50,354.75 L559.80,354.75 L560.10,354.49 L560.40,353.92 L560.70,353.23 L561.00,352.90 L561.30,353.23 L561.60,353.93 L561.90,354.50 L562.20,354.79 L562.50,354.88 L562.80,354.90 L563.40,354.89 L563.70,354.83 L564.00,354.63 L564.30,354.15 L564.60,353.45 L564.90,352.94 L565.20,353.05 L565.50,353.69 L565.80,354.34 L566.10,354.72 L566.40,354.86 L566.70,354.89 L568.20,354.90 L568.50,354.87 L568.80,354.73 L569.10,354.31 L569.40,353.44 L569.70,352.39 L570.00,351.90 L570.30,352.39 L570.60,353.44 L570.90,354.31 L571.20,354.73 L571.50,354.87 L571.80,354.90 L572.70,354.88 L573.00,354.73 L573.30,353.84 L573.60,350.58 L573.90,343.57 L574.20,335.88 L574.50,334.41 L574.80,340.75 L575.10,348.61 L575.40,353.07 L575.70,354.42 L576.00,354.21 L576.30,351.98 L576.60,344.11 L576.90,325.70 L577.20,298.82 L577.50,279.11 L577.80,282.73 L578.10,305.88 L578.40,330.01 L578.70,343.84 L579.00,348.90 L579.30,350.30 L579.60,350.90 L579.90,351.50 L580.20,352.17 L580.50,352.84 L580.80,353.44 L581.10,353.93 L581.40,354.29 L581.70,354.54 L582.00,354.70 L582.30,354.80 L582.60,354.85 L582.90,354.88 L583.20,354.89 L587.40,354.89 L587.70,354.85 L588.00,354.70 L588.30,354.34 L588.60,353.81 L588.90,353.43 L589.20,353.52 L589.50,353.99 L589.80,354.48 L590.10,354.77 L590.40,354.87 L590.70,354.90 L609.90,354.89 L610.20,354.84 L610.50,354.70 L610.80,354.41 L611.10,354.06 L611.40,353.90 L611.70,354.06 L612.00,354.41 L612.30,354.70 L612.60,354.84 L612.90,354.89 L614.10,354.90 L614.40,354.88 L614.70,354.79 L615.00,354.57 L615.30,354.17 L615.60,353.79 L615.90,353.72 L616.20,354.03 L616.50,354.45 L616.80,354.74 L617.10,354.86 L617.40,354.89 L621.90,354.89 L622.20,354.83 L622.50,354.63 L622.80,354.15 L623.10,353.45 L623.40,352.94 L623.70,353.05 L624.00,353.69 L624.30,354.34 L624.60,354.72 L624.90,354.86 L625.20,354.89 L626.10,354.89 L626.40,354.79 L626.70,354.35 L627.00,352.97 L627.30,350.16 L627.60,346.76 L627.90,345.10 L628.20,346.51 L628.50,349.43 L628.80,351.34 L629.10,351.55 L629.40,351.04 L629.70,350.97 L630.00,351.72 L630.30,352.89 L630.60,353.91 L630.90,354.52 L631.20,354.79 L631.50,354.87 L631.80,354.90 L637.80,354.89 L638.10,354.82 L638.40,354.50 L638.70,353.33 L639.00,349.73 L639.30,340.71 L639.60,322.46 L639.90,293.20 L640.20,257.25 L640.50,226.27 L640.80,213.90 L641.10,226.27 L641.40,257.25 L641.70,293.20 L642.00,322.46 L642.30,340.71 L642.60,349.73 L642.90,353.33 L643.20,354.50 L643.50,354.82 L643.80,354.89 L660.60,354.89 L660.90,354.81 L661.20,354.37 L661.50,353.11 L661.80,351.46 L662.10,351.12 L662.40,352.53 L662.70,354.06 L663.00,354.73 L663.30,354.88 L667.50,354.88 L667.80,354.73 L668.10,354.06 L668.40,352.53 L668.70,351.12 L669.00,351.46 L669.30,353.11 L669.60,354.37 L669.90,354.81 L670.20,354.89 L677.10,354.90" fill="none" stroke="#231f20" stroke-width="1.0" stroke-linejoin="round"/>
<text x="650.1" y="220.5" font-size="7.7" fill="#231f20" stroke="#231f20" stroke-width="0.22" text-anchor="middle">10</text>
<text x="547.8" y="284.4" font-size="7.7" fill="#231f20" stroke="#231f20" stroke-width="0.22" text-anchor="middle">5</text>
<text x="578.0" y="273.6" font-size="7.7" fill="#231f20" stroke="#231f20" stroke-width="0.22" text-anchor="middle">9</text>
<text x="555.0" y="325.6" font-size="7.7" fill="#231f20" stroke="#231f20" stroke-width="0.22" text-anchor="middle">6</text>
<text x="560.4" y="342.0" font-size="7.7" fill="#231f20" stroke="#231f20" stroke-width="0.22" text-anchor="middle">7</text>
<text x="570.0" y="349.0" font-size="7.7" fill="#231f20" stroke="#231f20" stroke-width="0.22" text-anchor="middle">8</text>
<text x="522.5" y="347.4" font-size="7.7" fill="#231f20" stroke="#231f20" stroke-width="0.22" text-anchor="middle">1</text>
<text x="528.2" y="334.0" font-size="7.7" fill="#231f20" stroke="#231f20" stroke-width="0.22" text-anchor="middle">2</text>
<text x="536.0" y="349.0" font-size="7.7" fill="#231f20" stroke="#231f20" stroke-width="0.22" text-anchor="middle">3</text>
<text x="539.3" y="335.0" font-size="7.7" fill="#231f20" stroke="#231f20" stroke-width="0.22" text-anchor="middle">4</text>
<text x="518.7" y="247.6" font-size="8.9" fill="#2f8a5a" stroke="#2f8a5a" stroke-width="0.22">Plastidic engineering</text>
<path d="M456.00,476.00 L460.80,475.99 L461.10,475.97 L461.40,475.90 L461.70,475.75 L462.00,475.49 L462.30,475.20 L462.60,475.01 L462.90,475.05 L463.20,475.29 L463.50,475.59 L463.80,475.81 L464.10,475.93 L464.40,475.98 L481.50,476.00 L481.80,475.98 L482.10,475.89 L482.40,475.60 L482.70,475.03 L483.00,474.33 L483.30,474.00 L483.60,474.33 L483.90,475.03 L484.20,475.60 L484.50,475.89 L484.80,475.98 L485.10,476.00 L502.20,475.99 L502.50,475.96 L502.80,475.86 L503.10,475.68 L503.40,475.39 L503.70,475.12 L504.00,475.00 L504.30,475.12 L504.60,475.39 L504.90,475.68 L505.20,475.86 L505.50,475.96 L505.80,475.99 L522.00,475.99 L522.30,475.93 L522.60,475.59 L522.90,474.38 L523.20,471.50 L523.50,467.29 L523.80,464.24 L524.10,464.92 L524.40,468.72 L524.70,472.66 L525.00,474.93 L525.30,475.76 L525.60,475.96 L525.90,476.00 L528.30,475.99 L528.60,475.91 L528.90,475.62 L529.20,474.80 L529.50,473.39 L529.80,472.03 L530.10,471.79 L530.40,472.88 L530.70,474.39 L531.00,475.42 L531.30,475.85 L531.60,475.97 L531.90,476.00 L537.90,476.00 L538.20,475.96 L538.50,475.77 L538.80,474.96 L539.10,472.75 L539.40,468.90 L539.70,465.20 L540.00,464.53 L540.30,467.50 L540.60,471.61 L540.90,474.42 L541.20,475.60 L541.50,475.93 L541.80,475.99 L545.10,475.99 L545.40,475.98 L545.70,475.95 L546.00,475.87 L546.30,475.50 L546.60,473.84 L546.90,468.09 L547.20,454.67 L547.50,435.09 L547.80,420.74 L548.10,423.39 L548.40,440.28 L548.70,457.90 L549.00,468.04 L549.30,471.79 L549.60,472.85 L549.90,473.15 L550.20,472.57 L550.50,469.32 L550.80,461.76 L551.10,453.29 L551.40,451.40 L551.70,456.56 L552.00,459.77 L552.30,456.58 L552.60,454.00 L552.90,458.65 L553.20,467.12 L553.50,473.08 L553.80,475.38 L554.10,475.92 L554.40,475.99 L555.90,475.98 L556.20,475.87 L556.50,475.33 L556.80,473.44 L557.10,468.74 L557.40,460.72 L557.70,452.13 L558.00,448.30 L558.30,452.13 L558.60,460.72 L558.90,468.74 L559.20,473.44 L559.50,475.33 L559.80,475.87 L560.10,475.98 L566.70,475.98 L567.00,475.88 L567.30,475.47 L567.60,474.33 L567.90,472.36 L568.20,470.46 L568.50,470.12 L568.80,471.64 L569.10,473.75 L569.40,475.19 L569.70,475.80 L570.00,475.96 L570.30,476.00 L572.70,475.99 L573.00,475.91 L573.30,475.34 L573.60,472.86 L573.90,466.46 L574.20,457.42 L574.50,452.80 L574.80,457.42 L575.10,466.46 L575.40,472.81 L575.70,475.00 L576.00,474.23 L576.30,470.06 L576.60,461.40 L576.90,450.94 L577.20,446.00 L577.50,450.94 L577.80,461.40 L578.10,470.06 L578.40,474.32 L578.70,475.67 L579.00,475.95 L579.30,476.00 L581.40,475.98 L581.70,475.92 L582.00,475.70 L582.30,475.27 L582.60,474.75 L582.90,474.50 L583.20,474.75 L583.50,475.27 L583.80,475.70 L584.10,475.91 L584.40,475.96 L584.70,475.91 L585.00,475.72 L585.30,475.39 L585.60,475.08 L585.90,475.02 L586.20,475.27 L586.50,475.62 L586.80,475.86 L587.10,475.97 L587.40,475.99 L595.20,475.99 L595.50,475.96 L595.80,475.85 L596.10,475.54 L596.40,474.82 L596.70,473.47 L597.00,471.47 L597.30,469.26 L597.60,467.65 L597.90,467.39 L598.20,468.61 L598.50,470.72 L598.80,472.86 L599.10,474.45 L599.40,475.36 L599.70,475.78 L600.00,475.94 L600.30,475.99 L618.90,475.99 L619.20,475.96 L619.50,475.80 L619.80,475.39 L620.10,474.67 L620.40,473.97 L620.70,473.84 L621.00,474.40 L621.30,475.17 L621.60,475.70 L621.90,475.93 L622.20,475.99 L638.70,476.00 L639.00,475.97 L639.30,475.80 L639.60,474.88 L639.90,471.29 L640.20,461.25 L640.50,441.74 L640.80,416.89 L641.10,400.26 L641.40,403.93 L641.70,425.06 L642.00,449.27 L642.30,465.58 L642.60,472.98 L642.90,475.35 L643.20,475.90 L643.50,475.99 L657.30,475.99 L657.60,475.94 L657.90,475.80 L658.20,475.51 L658.50,475.16 L658.80,475.00 L659.10,475.16 L659.40,475.51 L659.70,475.80 L660.00,475.94 L660.30,475.99 L660.90,475.99 L661.20,475.97 L661.50,475.86 L661.80,475.62 L662.10,475.27 L662.40,475.02 L662.70,475.08 L663.00,475.39 L663.30,475.72 L663.60,475.91 L663.90,475.98 L666.60,475.99 L666.90,475.96 L667.20,475.82 L667.50,475.44 L667.80,474.79 L668.10,474.15 L668.40,474.04 L668.70,474.55 L669.00,475.25 L669.30,475.73 L669.60,475.93 L669.90,475.99 L677.40,476.00" fill="none" stroke="#231f20" stroke-width="1.0" stroke-linejoin="round"/>
<text x="648.9" y="404.8" font-size="7.7" fill="#231f20" stroke="#231f20" stroke-width="0.22" text-anchor="middle">10</text>
<text x="549.1" y="415.2" font-size="7.7" fill="#231f20" stroke="#231f20" stroke-width="0.22" text-anchor="middle">5</text>
<text x="577.8" y="442.4" font-size="7.7" fill="#231f20" stroke="#231f20" stroke-width="0.22" text-anchor="middle">9</text>
<text x="552.9" y="446.4" font-size="7.7" fill="#231f20" stroke="#231f20" stroke-width="0.22" text-anchor="middle">6</text>
<text x="555.3" y="456.3" font-size="7.7" fill="#231f20" stroke="#231f20" stroke-width="0.22" text-anchor="middle">7</text>
<text x="569.0" y="465.3" font-size="7.7" fill="#231f20" stroke="#231f20" stroke-width="0.22" text-anchor="middle">8</text>
<text x="525.3" y="460.3" font-size="7.7" fill="#231f20" stroke="#231f20" stroke-width="0.22" text-anchor="middle">1</text>
<text x="531.2" y="466.4" font-size="7.7" fill="#231f20" stroke="#231f20" stroke-width="0.22" text-anchor="middle">2</text>
<text x="541.0" y="460.8" font-size="7.7" fill="#231f20" stroke="#231f20" stroke-width="0.22" text-anchor="middle">4</text>
<text x="534" y="391.3" font-size="8.7" fill="#231f20"><tspan font-style="italic">In vitro</tspan> assay</text>
<text x="532.5" y="495.7" font-size="8.8" fill="#231f20" stroke="#231f20" stroke-width="0.22">Retention time (min)</text>
<text transform="translate(449.6,232.2) rotate(-90)" font-size="8.9" fill="#231f20" text-anchor="middle" textLength="77.5" lengthAdjust="spacingAndGlyphs">Relative abundance</text>
<rect x="66.7" y="373.6" width="349.3" height="113.2" fill="none" stroke="#d8a886" stroke-width="0.9"/>
<line x1="99.4" y1="383.0" x2="99.4" y2="472.3" stroke="#333" stroke-width="0.8"/>
<line x1="99.4" y1="472.3" x2="411.6" y2="472.3" stroke="#333" stroke-width="0.8"/>
<line x1="96.9" y1="472.3" x2="99.4" y2="472.3" stroke="#333" stroke-width="0.8"/>
<text x="94.3" y="475.0" font-size="7.5" fill="#231f20" stroke="#231f20" stroke-width="0.22" text-anchor="end">0</text>
<line x1="96.9" y1="450.0" x2="99.4" y2="450.0" stroke="#333" stroke-width="0.8"/>
<text x="94.3" y="452.7" font-size="7.5" fill="#231f20" stroke="#231f20" stroke-width="0.22" text-anchor="end">4</text>
<line x1="96.9" y1="427.7" x2="99.4" y2="427.7" stroke="#333" stroke-width="0.8"/>
<text x="94.3" y="430.4" font-size="7.5" fill="#231f20" stroke="#231f20" stroke-width="0.22" text-anchor="end">8</text>
<line x1="96.9" y1="405.4" x2="99.4" y2="405.4" stroke="#333" stroke-width="0.8"/>
<text x="94.3" y="408.1" font-size="7.5" fill="#231f20" stroke="#231f20" stroke-width="0.22" text-anchor="end">12</text>
<line x1="96.9" y1="383.1" x2="99.4" y2="383.1" stroke="#333" stroke-width="0.8"/>
<text x="94.3" y="385.8" font-size="7.5" fill="#231f20" stroke="#231f20" stroke-width="0.22" text-anchor="end">16</text>
<line x1="99.4" y1="472.3" x2="99.4" y2="474.8" stroke="#333" stroke-width="0.8"/>
<line x1="151.45" y1="472.3" x2="151.45" y2="474.8" stroke="#333" stroke-width="0.8"/>
<line x1="203.5" y1="472.3" x2="203.5" y2="474.8" stroke="#333" stroke-width="0.8"/>
<line x1="255.55" y1="472.3" x2="255.55" y2="474.8" stroke="#333" stroke-width="0.8"/>
<line x1="307.6" y1="472.3" x2="307.6" y2="474.8" stroke="#333" stroke-width="0.8"/>
<line x1="359.65" y1="472.3" x2="359.65" y2="474.8" stroke="#333" stroke-width="0.8"/>
<line x1="411.7" y1="472.3" x2="411.7" y2="474.8" stroke="#333" stroke-width="0.8"/>
<text transform="translate(78.6,427.2) rotate(-90)" font-size="8.3" fill="#231f20" text-anchor="middle">Patchoulol (µg/g FW)</text>
<line x1="113.9" y1="463.21" x2="113.9" y2="462.26" stroke="#c8623a" stroke-width="0.8"/>
<line x1="112.4" y1="462.26" x2="115.4" y2="462.26" stroke="#c8623a" stroke-width="0.8"/>
<rect x="108.15" y="463.21" width="11.5" height="9.09" fill="#f26a21" stroke="#3a2a20" stroke-width="0.7"/>
<line x1="125.4" y1="410.98" x2="125.4" y2="394.81" stroke="#b0705a" stroke-width="0.8"/>
<line x1="123.9" y1="394.81" x2="126.9" y2="394.81" stroke="#b0705a" stroke-width="0.8"/>
<rect x="119.65" y="410.98" width="11.5" height="61.33" fill="#8c2266" stroke="#3a2a20" stroke-width="0.7"/>
<line x1="136.9" y1="422.12" x2="136.9" y2="401.5" stroke="#f0c040" stroke-width="0.8"/>
<line x1="135.4" y1="401.5" x2="138.4" y2="401.5" stroke="#f0c040" stroke-width="0.8"/>
<rect x="131.15" y="422.12" width="11.5" height="50.18" fill="#ffcb05" stroke="#3a2a20" stroke-width="0.7"/>
<text x="125.7" y="484.3" font-size="7.55" fill="#231f20" stroke="#231f20" stroke-width="0.22" text-anchor="middle">2PTS-5</text>
<text x="123.8" y="388.8" font-size="8.2" fill="#231f20" stroke="#231f20" stroke-width="0.1" textLength="16.20" lengthAdjust="spacing">5.8×</text>
<line x1="165.95" y1="469.51" x2="165.95" y2="468.95" stroke="#c8623a" stroke-width="0.8"/>
<line x1="164.45" y1="468.95" x2="167.45" y2="468.95" stroke="#c8623a" stroke-width="0.8"/>
<rect x="160.2" y="469.51" width="11.5" height="2.79" fill="#f26a21" stroke="#3a2a20" stroke-width="0.7"/>
<line x1="177.45" y1="424.36" x2="177.45" y2="399.82" stroke="#b0705a" stroke-width="0.8"/>
<line x1="175.95" y1="399.82" x2="178.95" y2="399.82" stroke="#b0705a" stroke-width="0.8"/>
<rect x="171.7" y="424.36" width="11.5" height="47.95" fill="#8c2266" stroke="#3a2a20" stroke-width="0.7"/>
<line x1="188.95" y1="437.18" x2="188.95" y2="425.47" stroke="#f0c040" stroke-width="0.8"/>
<line x1="187.45" y1="425.47" x2="190.45" y2="425.47" stroke="#f0c040" stroke-width="0.8"/>
<rect x="183.2" y="437.18" width="11.5" height="35.12" fill="#ffcb05" stroke="#3a2a20" stroke-width="0.7"/>
<text x="177.75" y="484.3" font-size="7.55" fill="#231f20" stroke="#231f20" stroke-width="0.22" text-anchor="middle">2PTS-12</text>
<text x="170.7" y="394.4" font-size="8.2" fill="#231f20" stroke="#231f20" stroke-width="0.1" textLength="19.20" lengthAdjust="spacing">13.1×</text>
<line x1="218.0" y1="470.63" x2="218.0" y2="470.35" stroke="#c8623a" stroke-width="0.8"/>
<line x1="216.5" y1="470.35" x2="219.5" y2="470.35" stroke="#c8623a" stroke-width="0.8"/>
<rect x="212.25" y="470.63" width="11.5" height="1.67" fill="#f26a21" stroke="#3a2a20" stroke-width="0.7"/>
<line x1="229.5" y1="465.05" x2="229.5" y2="461.71" stroke="#b0705a" stroke-width="0.8"/>
<line x1="228.0" y1="461.71" x2="231.0" y2="461.71" stroke="#b0705a" stroke-width="0.8"/>
<rect x="223.75" y="465.05" width="11.5" height="7.25" fill="#8c2266" stroke="#3a2a20" stroke-width="0.7"/>
<line x1="241.0" y1="455.02" x2="241.0" y2="447.77" stroke="#f0c040" stroke-width="0.8"/>
<line x1="239.5" y1="447.77" x2="242.5" y2="447.77" stroke="#f0c040" stroke-width="0.8"/>
<rect x="235.25" y="455.02" width="11.5" height="17.28" fill="#ffcb05" stroke="#3a2a20" stroke-width="0.7"/>
<text x="229.8" y="484.3" font-size="7.55" fill="#231f20" stroke="#231f20" stroke-width="0.22" text-anchor="middle">2FPS-PTS-2</text>
<text x="226.1" y="443.7" font-size="8.2" fill="#231f20" stroke="#231f20" stroke-width="0.1" textLength="15.90" lengthAdjust="spacing">5.1×</text>
<line x1="270.05" y1="468.4" x2="270.05" y2="468.12" stroke="#c8623a" stroke-width="0.8"/>
<line x1="268.55" y1="468.12" x2="271.55" y2="468.12" stroke="#c8623a" stroke-width="0.8"/>
<rect x="264.3" y="468.4" width="11.5" height="3.9" fill="#f26a21" stroke="#3a2a20" stroke-width="0.7"/>
<line x1="281.55" y1="461.15" x2="281.55" y2="454.46" stroke="#b0705a" stroke-width="0.8"/>
<line x1="280.05" y1="454.46" x2="283.05" y2="454.46" stroke="#b0705a" stroke-width="0.8"/>
<rect x="275.8" y="461.15" width="11.5" height="11.15" fill="#8c2266" stroke="#3a2a20" stroke-width="0.7"/>
<line x1="293.05" y1="457.81" x2="293.05" y2="450.56" stroke="#f0c040" stroke-width="0.8"/>
<line x1="291.55" y1="450.56" x2="294.55" y2="450.56" stroke="#f0c040" stroke-width="0.8"/>
<rect x="287.3" y="457.81" width="11.5" height="14.5" fill="#ffcb05" stroke="#3a2a20" stroke-width="0.7"/>
<text x="281.85" y="484.3" font-size="7.55" fill="#231f20" stroke="#231f20" stroke-width="0.22" text-anchor="middle">2FPS-PTS-4</text>
<text x="277.8" y="443.7" font-size="8.2" fill="#231f20" stroke="#231f20" stroke-width="0.1" textLength="16.00" lengthAdjust="spacing">3.2×</text>
<line x1="322.1" y1="447.77" x2="322.1" y2="443.31" stroke="#c8623a" stroke-width="0.8"/>
<line x1="320.6" y1="443.31" x2="323.6" y2="443.31" stroke="#c8623a" stroke-width="0.8"/>
<rect x="316.35" y="447.77" width="11.5" height="24.53" fill="#f26a21" stroke="#3a2a20" stroke-width="0.7"/>
<line x1="333.6" y1="426.59" x2="333.6" y2="417.27" stroke="#b0705a" stroke-width="0.8"/>
<line x1="332.1" y1="417.27" x2="335.1" y2="417.27" stroke="#b0705a" stroke-width="0.8"/>
<rect x="327.85" y="426.59" width="11.5" height="45.71" fill="#8c2266" stroke="#3a2a20" stroke-width="0.7"/>
<line x1="345.1" y1="435.5" x2="345.1" y2="426.59" stroke="#f0c040" stroke-width="0.8"/>
<line x1="343.6" y1="426.59" x2="346.6" y2="426.59" stroke="#f0c040" stroke-width="0.8"/>
<rect x="339.35" y="435.5" width="11.5" height="36.8" fill="#ffcb05" stroke="#3a2a20" stroke-width="0.7"/>
<text x="333.9" y="484.3" font-size="7.55" fill="#231f20" stroke="#231f20" stroke-width="0.22" text-anchor="middle">2PTS+FPS-13</text>
<text x="329.9" y="412.3" font-size="8.2" fill="#231f20" stroke="#231f20" stroke-width="0.1" textLength="15.20" lengthAdjust="spacing">1.7×</text>
<line x1="374.15" y1="458.92" x2="374.15" y2="454.46" stroke="#c8623a" stroke-width="0.8"/>
<line x1="372.65" y1="454.46" x2="375.65" y2="454.46" stroke="#c8623a" stroke-width="0.8"/>
<rect x="368.4" y="458.92" width="11.5" height="13.38" fill="#f26a21" stroke="#3a2a20" stroke-width="0.7"/>
<line x1="385.65" y1="437.74" x2="385.65" y2="426.59" stroke="#b0705a" stroke-width="0.8"/>
<line x1="384.15" y1="426.59" x2="387.15" y2="426.59" stroke="#b0705a" stroke-width="0.8"/>
<rect x="379.9" y="437.74" width="11.5" height="34.57" fill="#8c2266" stroke="#3a2a20" stroke-width="0.7"/>
<line x1="397.15" y1="444.98" x2="397.15" y2="441.64" stroke="#f0c040" stroke-width="0.8"/>
<line x1="395.65" y1="441.64" x2="398.65" y2="441.64" stroke="#f0c040" stroke-width="0.8"/>
<rect x="391.4" y="444.98" width="11.5" height="27.32" fill="#ffcb05" stroke="#3a2a20" stroke-width="0.7"/>
<text x="385.95" y="484.3" font-size="7.55" fill="#231f20" stroke="#231f20" stroke-width="0.22" text-anchor="middle">2PTS+FPS-14</text>
<text x="379.0" y="422.8" font-size="8.2" fill="#231f20" stroke="#231f20" stroke-width="0.1" textLength="15.70" lengthAdjust="spacing">2.3×</text>
<rect x="214.6" y="383.5" width="5.2" height="5.0" fill="#f26a21" stroke="#3a2a20" stroke-width="0.5"/>
<text x="222.0" y="388.6" font-size="8.0" fill="#231f20" stroke="#231f20" stroke-width="0.22" textLength="9.2" lengthAdjust="spacingAndGlyphs">T1</text>
<rect x="236.9" y="383.5" width="5.2" height="5.0" fill="#8c2266" stroke="#3a2a20" stroke-width="0.5"/>
<text x="245.7" y="388.6" font-size="8.0" fill="#231f20" stroke="#231f20" stroke-width="0.22" textLength="49.3" lengthAdjust="spacingAndGlyphs">T1 × ΔHMGR</text>
<rect x="301.1" y="383.5" width="5.2" height="5.0" fill="#ffcb05" stroke="#3a2a20" stroke-width="0.5"/>
<text x="309.0" y="388.6" font-size="8.0" fill="#231f20" stroke="#231f20" stroke-width="0.22" textLength="46.6" lengthAdjust="spacingAndGlyphs">ΔHMGR × T1</text>
</svg>
</body></html>
